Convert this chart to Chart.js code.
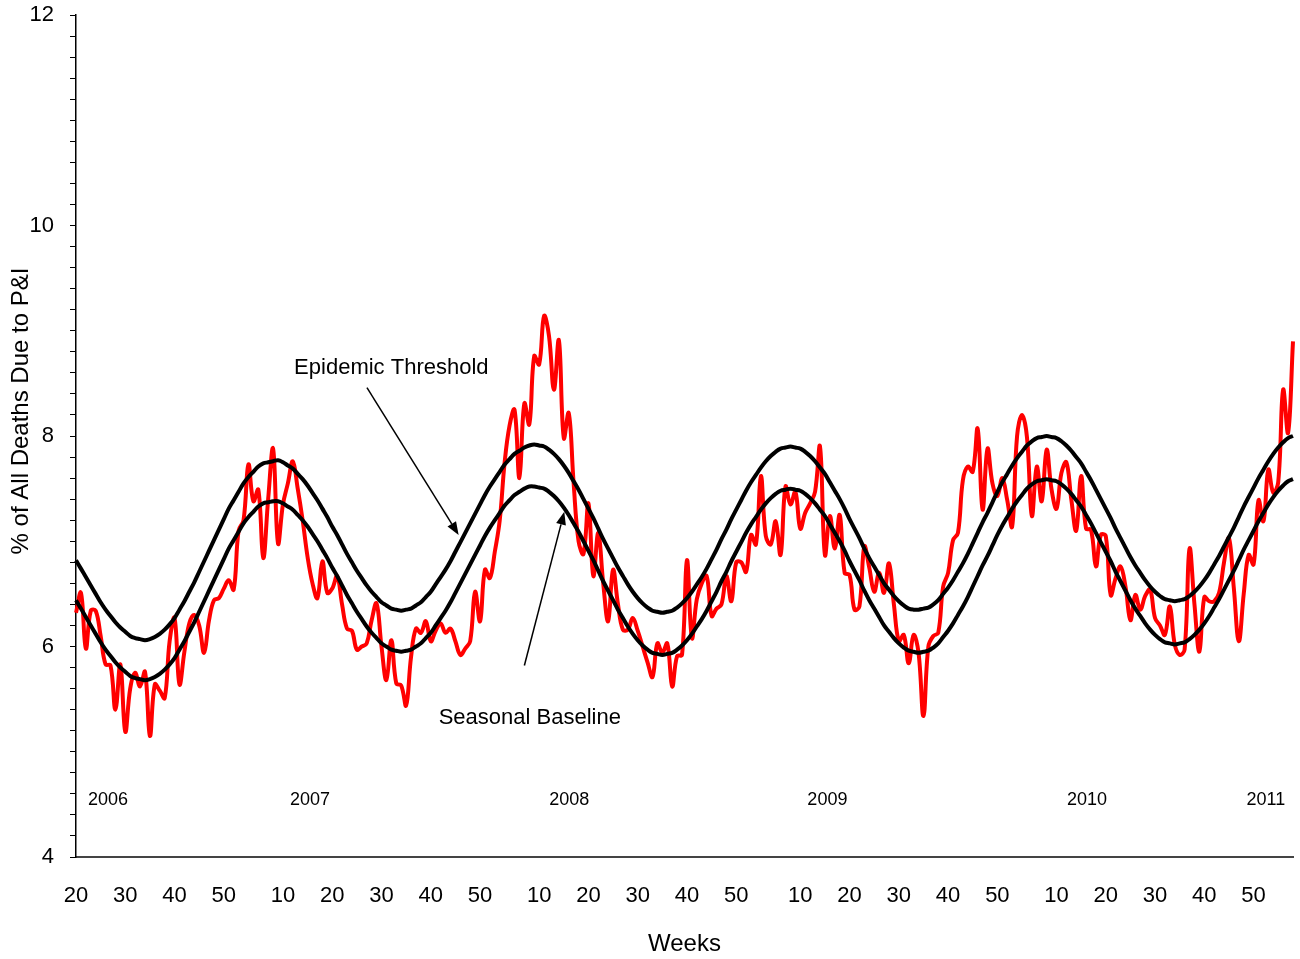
<!DOCTYPE html>
<html>
<head>
<meta charset="utf-8">
<title>Pneumonia and Influenza Mortality</title>
<script src="https://cdn.jsdelivr.net/npm/chart.js@4.4.1/dist/chart.umd.min.js"></script>
<style>
  html, body { margin: 0; padding: 0; background: #fff; }
  #wrap { width: 1300px; height: 959px; position: relative; }
</style>
</head>
<body>
<div id="wrap"><canvas id="piChart"></canvas></div>
<script>
// Weekly P&I mortality, MMWR week 20 of 2006 to week 6 of 2011

// season spans: [year, first week, last week]
const yearSpans = [[2006, 20, 52], [2007, 1, 52], [2008, 1, 53], [2009, 1, 52], [2010, 1, 52], [2011, 1, 6]];

// % of all deaths due to P&I (red)
const piPercent = [
  6.32, 6.51, 5.98, 6.34, 6.34, 6.10, 5.83, 5.82, 5.40, 5.83,
  5.19, 5.60, 5.75, 5.62, 5.76, 5.15, 5.64, 5.58, 5.51, 6.05,
  6.27, 5.64, 5.95, 6.22, 6.30, 6.20, 5.94, 6.25, 6.44, 6.46,
  6.55, 6.63, 6.54, 7.10, 7.20, 7.73, 7.38, 7.49, 6.84, 7.40,
  7.88, 6.98, 7.35, 7.55, 7.76, 7.50, 7.20, 6.85, 6.60, 6.46,
  6.81, 6.51, 6.55, 6.67, 6.40, 6.17, 6.15, 5.97, 6.00, 6.03,
  6.25, 6.41, 6.00, 5.68, 6.06, 5.65, 5.63, 5.44, 5.90, 6.17,
  6.13, 6.24, 6.05, 6.15, 6.22, 6.13, 6.17, 6.05, 5.92, 5.98,
  6.05, 6.52, 6.24, 6.73, 6.65, 6.90, 7.20, 7.75, 8.10, 8.25,
  7.60, 8.31, 8.11, 8.76, 8.68, 9.14, 8.95, 8.44, 8.91, 7.98,
  8.22, 7.55, 7.00, 6.88, 7.36, 6.67, 7.08, 6.60, 6.24, 6.73,
  6.40, 6.16, 6.16, 6.27, 6.15, 6.00, 5.85, 5.71, 6.03, 5.94,
  6.03, 5.62, 5.91, 5.92, 6.82, 6.08, 6.45, 6.60, 6.67, 6.29,
  6.36, 6.40, 6.67, 6.43, 6.80, 6.80, 6.71, 7.06, 6.97, 7.62,
  7.05, 6.97, 7.19, 6.87, 7.52, 7.35, 7.47, 7.12, 7.27, 7.36,
  7.47, 7.90, 6.87, 7.24, 6.93, 7.25, 6.70, 6.68, 6.35, 6.38,
  6.95, 6.75, 6.52, 6.70, 6.51, 6.79, 6.40, 6.05, 6.11, 5.84,
  6.11, 5.94, 5.34, 6.00, 6.10, 6.13, 6.57, 6.70, 7.01, 7.08,
  7.58, 7.71, 7.66, 8.07, 7.30, 7.88, 7.55, 7.43, 7.60, 7.39,
  7.14, 8.00, 8.20, 7.99, 7.24, 7.71, 7.38, 7.87, 7.49, 7.31,
  7.65, 7.75, 7.40, 7.10, 7.62, 7.12, 7.11, 6.76, 7.06, 7.05,
  6.49, 6.65, 6.76, 6.57, 6.25, 6.49, 6.35, 6.48, 6.54, 6.27,
  6.20, 6.11, 6.38, 6.02, 5.92, 5.97, 6.93, 6.40, 5.95, 6.47,
  6.43, 6.43, 6.51, 6.80, 7.03, 6.55, 6.05, 6.50, 6.87, 6.78,
  7.39, 7.19, 7.68, 7.46, 7.56, 8.44, 8.03, 8.90
];

// Seasonal baseline
const seasonalBaseline = [
  6.44, 6.36, 6.28, 6.20, 6.12, 6.04, 5.97, 5.91, 5.85, 5.80, 5.76, 5.72, 5.70, 5.69, 5.68,
  5.69, 5.71, 5.74, 5.78, 5.83, 5.89, 5.97, 6.05, 6.14, 6.23, 6.33, 6.43, 6.53, 6.63, 6.73,
  6.83, 6.93, 7.01, 7.09, 7.17, 7.23, 7.28, 7.33, 7.36, 7.37, 7.38,
  7.38, 7.36, 7.33, 7.30, 7.25, 7.20, 7.14, 7.07, 7.00, 6.92, 6.84, 6.75, 6.67, 6.58, 6.49,
  6.41, 6.33, 6.26, 6.19, 6.13, 6.08, 6.03, 6.00, 5.97, 5.96, 5.95,
  5.96, 5.97, 6.00, 6.03, 6.08, 6.13, 6.20, 6.27, 6.34, 6.42, 6.51, 6.60, 6.69, 6.78,
  6.87, 6.96, 7.05, 7.13, 7.20, 7.27, 7.34, 7.39, 7.44, 7.47, 7.50, 7.52, 7.52,
  7.51, 7.50, 7.47, 7.43, 7.38, 7.32, 7.25, 7.17, 7.09, 7.00, 6.91, 6.82, 6.72, 6.62,
  6.53, 6.44, 6.35, 6.27, 6.19, 6.12, 6.06, 6.01, 5.97, 5.94, 5.93, 5.92,
  5.93, 5.94, 5.97, 6.01, 6.06, 6.12, 6.19, 6.26, 6.34, 6.43, 6.52, 6.62, 6.71, 6.81,
  6.90, 6.99, 7.08, 7.16, 7.23, 7.30, 7.36, 7.41, 7.45, 7.48, 7.49, 7.50,
  7.49, 7.48, 7.45, 7.41, 7.36, 7.30, 7.24, 7.16, 7.08, 7.00, 6.91, 6.81, 6.72, 6.63,
  6.53, 6.44, 6.36, 6.28, 6.20, 6.14, 6.08, 6.03, 5.99, 5.96, 5.95, 5.94,
  5.95, 5.96, 5.99, 6.03, 6.09, 6.15, 6.22, 6.30, 6.38, 6.47, 6.57, 6.67, 6.77, 6.86,
  6.96, 7.06, 7.15, 7.23, 7.31, 7.38, 7.44, 7.50, 7.54, 7.57, 7.58, 7.59,
  7.58, 7.57, 7.54, 7.50, 7.45, 7.39, 7.33, 7.25, 7.17, 7.08, 6.99, 6.90, 6.81, 6.71,
  6.62, 6.53, 6.44, 6.36, 6.29, 6.22, 6.16, 6.11, 6.07, 6.04, 6.03, 6.02,
  6.03, 6.04, 6.07, 6.11, 6.16, 6.22, 6.29, 6.37, 6.45, 6.54, 6.63, 6.72, 6.82, 6.92,
  7.01, 7.10, 7.19, 7.27, 7.35, 7.42, 7.48, 7.53, 7.57, 7.59
];

// Epidemic threshold
const epidemicThreshold = [
  6.82, 6.74, 6.66, 6.58, 6.50, 6.42, 6.35, 6.29, 6.23, 6.18, 6.14, 6.10, 6.08, 6.07, 6.06,
  6.07, 6.09, 6.12, 6.16, 6.21, 6.27, 6.35, 6.43, 6.52, 6.61, 6.71, 6.81, 6.91, 7.01, 7.11,
  7.21, 7.31, 7.39, 7.47, 7.55, 7.61, 7.66, 7.71, 7.74, 7.75, 7.76,
  7.77, 7.75, 7.72, 7.69, 7.64, 7.59, 7.53, 7.46, 7.39, 7.31, 7.23, 7.14, 7.06, 6.97, 6.88,
  6.80, 6.72, 6.65, 6.58, 6.52, 6.47, 6.42, 6.39, 6.36, 6.35, 6.34,
  6.35, 6.36, 6.39, 6.42, 6.47, 6.52, 6.59, 6.66, 6.73, 6.81, 6.90, 6.99, 7.08, 7.17,
  7.26, 7.35, 7.44, 7.52, 7.59, 7.66, 7.73, 7.78, 7.83, 7.86, 7.89, 7.91, 7.92,
  7.91, 7.90, 7.87, 7.83, 7.78, 7.72, 7.65, 7.57, 7.49, 7.40, 7.31, 7.22, 7.12, 7.02,
  6.93, 6.84, 6.75, 6.67, 6.59, 6.52, 6.46, 6.41, 6.37, 6.34, 6.33, 6.32,
  6.33, 6.34, 6.37, 6.41, 6.46, 6.52, 6.59, 6.66, 6.74, 6.83, 6.92, 7.02, 7.11, 7.21,
  7.30, 7.39, 7.48, 7.56, 7.63, 7.70, 7.76, 7.81, 7.85, 7.88, 7.89, 7.90,
  7.89, 7.88, 7.85, 7.81, 7.76, 7.70, 7.64, 7.56, 7.48, 7.40, 7.31, 7.21, 7.12, 7.03,
  6.93, 6.84, 6.76, 6.68, 6.60, 6.54, 6.48, 6.43, 6.39, 6.36, 6.35, 6.35,
  6.36, 6.37, 6.40, 6.44, 6.50, 6.56, 6.63, 6.71, 6.79, 6.88, 6.98, 7.08, 7.18, 7.27,
  7.37, 7.47, 7.56, 7.64, 7.72, 7.79, 7.85, 7.91, 7.95, 7.98, 7.99, 8.00,
  7.99, 7.98, 7.95, 7.91, 7.86, 7.80, 7.74, 7.66, 7.58, 7.49, 7.40, 7.31, 7.22, 7.12,
  7.03, 6.94, 6.85, 6.77, 6.70, 6.63, 6.57, 6.52, 6.48, 6.45, 6.44, 6.43,
  6.44, 6.45, 6.48, 6.52, 6.57, 6.63, 6.70, 6.78, 6.86, 6.95, 7.04, 7.13, 7.23, 7.33,
  7.42, 7.51, 7.60, 7.68, 7.76, 7.83, 7.89, 7.94, 7.98, 8.00
];

// year labels inside the plot, placed at a week index
const yearLabels = ['2006', '2007', '2008', '2009', '2010', '2011'];
const yearLabelAt = [6.5, 47.5, 100.1, 152.5, 205.2, 241.5];

const FONT = '"Liberation Sans", Arial, sans-serif';

// build week categories from the season spans
const weekLabels = [];
yearSpans.forEach(([year, first, last]) => {
  for (let w = first; w <= last; w++) weekLabels.push(w);
});

// Text labels, arrows and the rotated y title
const annotationPlugin = {
  id: 'piAnnotations',
  afterDatasetsDraw(chart) {
    const { ctx, scales: { x, y } } = chart;
    const px = (i) => x.getPixelForValue(i);
    const py = (v) => y.getPixelForValue(v);

    ctx.save();
    ctx.fillStyle = '#000';
    ctx.textAlign = 'center';
    ctx.textBaseline = 'middle';

    ctx.font = '22px ' + FONT;
    ctx.fillText('Epidemic Threshold', px(64.0), py(8.65));
    ctx.fillText('Seasonal Baseline', px(92.1), py(5.32));

    drawArrow(ctx, px(59.05), py(8.46), px(77.66), py(7.06));
    drawArrow(ctx, px(91.0), py(5.82), px(99.1), py(7.28));

    ctx.font = '18px ' + FONT;
    yearLabels.forEach((label, k) => {
      ctx.fillText(label, px(yearLabelAt[k]), py(4.54));
    });

    // y axis title
    ctx.font = '24px ' + FONT;
    ctx.translate(21, 411);
    ctx.rotate(-Math.PI / 2);
    ctx.fillText('% of All Deaths Due to P&I', 0, 0);
    ctx.restore();
  }
};

function drawArrow(ctx, x1, y1, x2, y2) {
  const ang = Math.atan2(y2 - y1, x2 - x1);
  const head = 13;
  const half = 5;
  const bx = x2 - head * Math.cos(ang);
  const by = y2 - head * Math.sin(ang);

  ctx.strokeStyle = '#000';
  ctx.lineWidth = 1.5;
  ctx.beginPath();
  ctx.moveTo(x1, y1);
  ctx.lineTo(bx, by);
  ctx.stroke();

  ctx.beginPath();
  ctx.moveTo(x2, y2);
  ctx.lineTo(bx + half * Math.sin(ang), by - half * Math.cos(ang));
  ctx.lineTo(bx - half * Math.sin(ang), by + half * Math.cos(ang));
  ctx.closePath();
  ctx.fill();
}

function renderChart() {
  const ctx = document.getElementById('piChart');

  new Chart(ctx, {
    type: 'line',
    data: {
      labels: weekLabels,
      datasets: [
        {
          label: 'Seasonal Baseline',
          data: seasonalBaseline,
          borderColor: '#000',
          borderWidth: 4,
          pointRadius: 0,
          tension: 0.4,
          fill: false
        },
        {
          label: 'Epidemic Threshold',
          data: epidemicThreshold,
          borderColor: '#000',
          borderWidth: 4,
          pointRadius: 0,
          tension: 0.4,
          fill: false
        },
        {
          label: '% of All Deaths Due to P&I',
          data: piPercent,
          borderColor: '#ff0000',
          borderWidth: 4,
          pointRadius: 0,
          tension: 0.4,
          fill: false
        }
      ]
    },
    options: {
      responsive: true,
      maintainAspectRatio: false,
      animation: false,
      layout: { padding: { top: 15, right: 7, bottom: 0, left: 0 } },
      plugins: {
        legend: { display: false },
        tooltip: { enabled: false }
      },
      scales: {
        x: {
          type: 'category',
          grid: { display: false, drawTicks: false },
          border: { display: true, color: '#444', width: 2 },
          ticks: {
            autoSkip: false,
            minRotation: 0,
            maxRotation: 0,
            padding: 26,
            color: '#000',
            font: { size: 22, family: FONT },
            callback: function(value, index) {
              const w = weekLabels[index];
              return w % 10 === 0 ? String(w) : '';
            }
          },
          title: {
            display: true,
            text: 'Weeks',
            color: '#000',
            font: { size: 24, family: FONT },
            padding: { top: 0, bottom: 0 }
          },
          afterFit: function(scale) {
            scale.height = 102;
            scale.paddingLeft = 0;
            scale.paddingRight = 0;
          }
        },
        y: {
          type: 'linear',
          min: 4,
          max: 12,
          grid: {
            drawOnChartArea: false,
            drawTicks: true,
            tickLength: 6,
            color: '#000',
            lineWidth: 1
          },
          border: { display: true, color: '#000', width: 1.5 },
          ticks: {
            stepSize: 0.2,
            autoSkip: false,
            maxTicksLimit: 100,
            padding: 16,
            color: '#000',
            font: { size: 22, family: FONT },
            callback: function(value) {
              const r = Math.round(value * 10);
              return r % 20 === 0 ? String(r / 10) : '';
            }
          },
          afterFit: function(scale) {
            scale.width = 76;
            scale.paddingTop = 0;
            scale.paddingBottom = 0;
          }
        }
      }
    },
    plugins: [annotationPlugin]
  });
}

document.addEventListener('DOMContentLoaded', renderChart);
</script>
</body>
</html>
